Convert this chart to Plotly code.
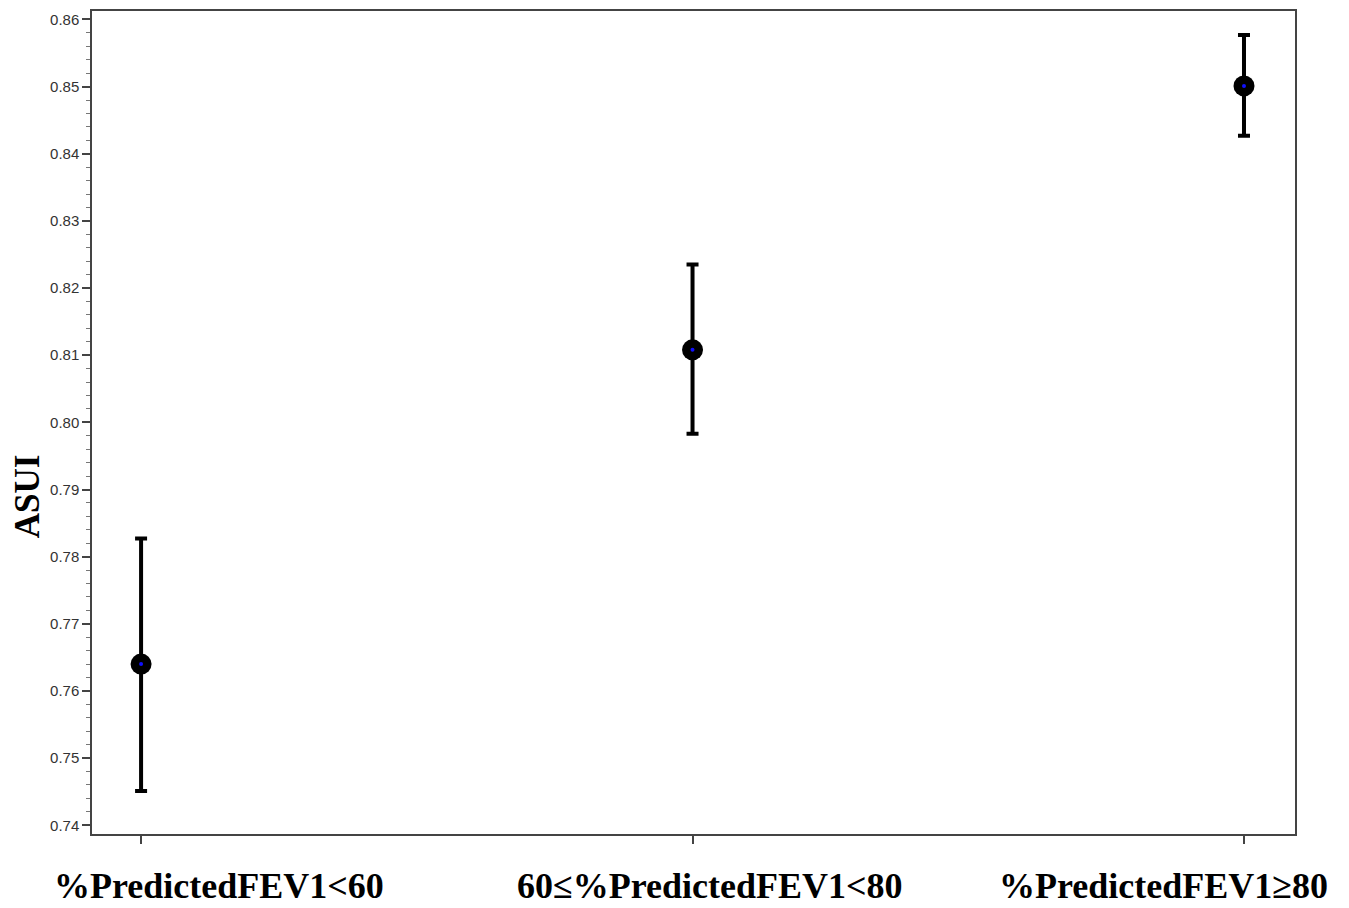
import plotly.graph_objects as go

categories = ["%PredictedFEV1<60", "60≤%PredictedFEV1<80", "%PredictedFEV1≥80"]
asui_mean = [0.7640, 0.8108, 0.8501]
ci_upper = [0.7827, 0.8235, 0.8577]
ci_lower = [0.7451, 0.7983, 0.8427]
y_tickvals = [0.74, 0.75, 0.76, 0.77, 0.78, 0.79, 0.80, 0.81, 0.82, 0.83, 0.84, 0.85, 0.86]
y_ticktext = ["0.74", "0.75", "0.76", "0.77", "0.78", "0.79", "0.80", "0.81", "0.82", "0.83", "0.84", "0.85", "0.86"]

xpos = list(range(len(categories)))
err_plus = [u - m for u, m in zip(ci_upper, asui_mean)]
err_minus = [m - l for m, l in zip(asui_mean, ci_lower)]

fig = go.Figure()
fig.add_trace(go.Scatter(
    x=xpos, y=asui_mean, mode="markers",
    marker=dict(color="black", size=21, symbol="circle"),
    error_y=dict(type="data", symmetric=False, array=err_plus, arrayminus=err_minus,
                 color="black", thickness=4, width=6),
    showlegend=False, hoverinfo="y",
))
fig.add_trace(go.Scatter(
    x=xpos, y=asui_mean, mode="markers",
    marker=dict(color="#1010ff", size=4, symbol="circle"),
    showlegend=False, hoverinfo="skip",
))

label_x = [0.1056, 0.5137, 0.8903]
for cat, lx in zip(categories, label_x):
    fig.add_annotation(text=cat, x=lx, y=-0.063, xref="paper", yref="paper",
                       showarrow=False, xanchor="center", yanchor="middle", borderpad=0,
                       font=dict(family="Liberation Serif, Times New Roman, serif", size=36, color="black", weight="bold"))

fig.add_annotation(text="ASUI", x=-0.054, y=0.789, xref="paper", yref="y",
                   textangle=-90, showarrow=False, xanchor="center", yanchor="middle",
                   font=dict(family="Liberation Serif, Times New Roman, serif", size=35, color="black", weight="bold"))

fig.update_xaxes(range=[-0.089, 2.0925], tickvals=xpos, ticktext=["", "", ""],
                 showticklabels=False, ticks="outside", ticklen=8, tickwidth=1.5, tickcolor="#444",
                 showline=True, linecolor="#444", linewidth=1.5, mirror=True,
                 showgrid=False, zeroline=False)
fig.update_yaxes(range=[0.7387, 0.86126], tickvals=y_tickvals, ticktext=y_ticktext,
                 ticks="outside", ticklen=8, tickwidth=1.5, tickcolor="#444",
                 tickfont=dict(family="Liberation Sans, Arial, sans-serif", size=15, color="#333"),
                 minor=dict(dtick=0.002, tick0=0.74, ticks="outside", ticklen=4, tickwidth=1, tickcolor="#777"),
                 showline=True, linecolor="#444", linewidth=1.5, mirror=True,
                 showgrid=False, zeroline=False)

fig.update_layout(width=1349, height=908, plot_bgcolor="white", paper_bgcolor="white",
                  margin=dict(l=92, r=54, t=9, b=74))

fig.write_html("out.html", config={"displayModeBar": False},
               post_script="document.body.style.margin='0px';document.body.style.overflow='hidden';")
